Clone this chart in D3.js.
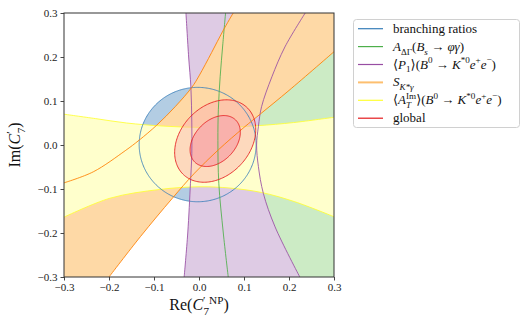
<!DOCTYPE html>
<html>
<head>
<meta charset="utf-8">
<script src="https://cdn.jsdelivr.net/npm/d3@7"></script>
<style>
  body { margin: 0; background: #fff; }
  svg { display: block; }
</style>
</head>
<body>
<div id="chart"></div>
<script>
// Axis ticks
const xTicks = [-0.3, -0.2, -0.1, 0.0, 0.1, 0.2, 0.3];
const yTicks = [-0.3, -0.2, -0.1, 0.0, 0.1, 0.2, 0.3];

// Contours, [Re, Im]
const brCenter = [-0.003, 0.001];
const brRadius = 0.13;

const greenLine = [[0.059, 0.3], [0.053, 0.23], [0.047, 0.155], [0.043, 0.08], [0.042, 0.01],
  [0.044, -0.087], [0.054, -0.2], [0.065, -0.3]];

const purpleLeft = [[-0.029, 0.3], [-0.023, 0.2], [-0.018, 0.131], [-0.016, 0.05], [-0.016, -0.02],
  [-0.019, -0.087], [-0.025, -0.2], [-0.033, -0.3]];
const purpleRight = [[0.236, 0.3], [0.191, 0.223], [0.162, 0.155], [0.139, 0.087], [0.132, 0.042],
  [0.128, 0.0], [0.132, -0.049], [0.143, -0.11], [0.169, -0.186], [0.224, -0.3]];

const orangeUpper = [[-0.3, -0.086], [-0.235, -0.061], [-0.164, -0.013], [-0.133, 0.011], [-0.094, 0.045],
  [-0.053, 0.087], [-0.016, 0.131], [0.0, 0.157], [0.028, 0.21], [0.053, 0.259], [0.076, 0.3]];
const orangeLower = [[-0.2, -0.3], [-0.13, -0.208], [-0.06, -0.122], [-0.01, -0.064], [0.043, -0.011],
  [0.1, 0.04], [0.137, 0.071], [0.2, 0.124], [0.3, 0.212]];

const yellowTop = [[-0.3, 0.07], [-0.23, 0.06], [-0.161, 0.05], [-0.08, 0.043], [0.0, 0.04],
  [0.07, 0.041], [0.132, 0.044], [0.21, 0.051], [0.3, 0.063]];
const yellowBottom = [[-0.3, -0.164], [-0.198, -0.121], [-0.087, -0.101], [0.0, -0.095], [0.07, -0.098],
  [0.139, -0.108], [0.213, -0.129], [0.3, -0.163]];

// global fit ellipses: center, semi axes, tilt (deg)
const globalCenter = [0.036, 0.009];
const globalOuter = [0.104, 0.078, 49];
const globalInner = [0.066, 0.046, 48];

const legendLabels = ['branching ratios', 'A_dG', 'P1', 'SKg', 'ATIm', 'global'];
const lineColors = ['#377eb8', '#4daf4a', '#984ea3', '#ff7f00', '#ffff33', '#e41a1c'];
const fillColors = ['#b3cde3', '#ccebc5', '#decbe4', '#fed9a6', '#ffffcc', '#fbb4ae'];

const W = 529, H = 328;
const font = '"Liberation Serif", "DejaVu Serif", serif';

const svg = d3.select('#chart').append('svg')
  .attr('width', W).attr('height', H)
  .style('font-family', font);

const x = d3.scaleLinear().domain([-0.3, 0.3]).range([64, 334]);
const y = d3.scaleLinear().domain([-0.3, 0.3]).range([277, 13]);

svg.append('clipPath').attr('id', 'clip')
  .append('rect')
  .attr('x', x(-0.3)).attr('y', y(0.3))
  .attr('width', x(0.3) - x(-0.3)).attr('height', y(-0.3) - y(0.3));

const plot = svg.append('g').attr('clip-path', 'url(#clip)');

const smooth = d3.line().x(d => x(d[0])).y(d => y(d[1])).curve(d3.curveCatmullRom);
const seg = pts => smooth(pts).slice(1);
const region = parts => 'M' + parts.map(p => typeof p[0] === 'number'
  ? `${x(p[0])},${y(p[1])}` : seg(p)).join('L') + 'Z';

const ellipse = (c, a, b, deg) => {
  const th = deg * Math.PI / 180;
  const pts = d3.range(0, 360, 4).map(t => {
    const r = t * Math.PI / 180;
    return [c[0] + a * Math.cos(th) * Math.cos(r) - b * Math.sin(th) * Math.sin(r),
            c[1] + a * Math.sin(th) * Math.cos(r) + b * Math.cos(th) * Math.sin(r)];
  });
  return d3.line().x(d => x(d[0])).y(d => y(d[1])).curve(d3.curveCardinalClosed.tension(0.5))(pts);
};

const brPath = ellipse(brCenter, brRadius, brRadius, 0);
const greenPath = region([greenLine, [0.35, -0.35], [0.35, 0.35]]);
const purplePath = region([purpleLeft, purpleRight.slice().reverse()]);
const orangePath = region([orangeUpper, [0.35, 0.35], orangeLower.slice().reverse(), [-0.35, -0.35]]);
const yellowPath = region([yellowTop, yellowBottom.slice().reverse()]);

// fills
[brPath, greenPath, purplePath, orangePath, yellowPath].forEach((p, i) => {
  plot.append('path').attr('d', p).attr('fill', fillColors[i]).attr('stroke', 'none');
});

const stroke = (d, c) => plot.append('path').attr('d', d)
  .attr('fill', 'none').attr('stroke', c).attr('stroke-width', 1).attr('stroke-opacity', 0.85);

stroke(smooth(yellowTop), lineColors[4]);
stroke(smooth(yellowBottom), lineColors[4]);

// global fills
plot.append('path').attr('d', ellipse(globalCenter, ...globalOuter))
  .attr('fill', fillColors[5]).attr('fill-opacity', 0.5);
plot.append('path').attr('d', ellipse(globalCenter, ...globalInner))
  .attr('fill', '#f9b1ac');

stroke(brPath, lineColors[0]);
stroke(smooth(greenLine), lineColors[1]);
stroke(smooth(purpleLeft), lineColors[2]);
stroke(smooth(purpleRight), lineColors[2]);
stroke(smooth(orangeUpper), lineColors[3]);
stroke(smooth(orangeLower), lineColors[3]);
stroke(ellipse(globalCenter, ...globalOuter), lineColors[5]);
stroke(ellipse(globalCenter, ...globalInner), lineColors[5]);

// frame
svg.append('rect')
  .attr('x', x(-0.3)).attr('y', y(0.3))
  .attr('width', x(0.3) - x(-0.3)).attr('height', y(-0.3) - y(0.3))
  .attr('fill', 'none').attr('stroke', '#333').attr('stroke-width', 1);

const fmt = d3.format('.1f');
const xAxisG = svg.append('g').attr('transform', `translate(0,${y(-0.3)})`)
  .call(d3.axisBottom(x).tickValues(xTicks).tickFormat(fmt).tickSize(3.5).tickPadding(3));
const yAxisG = svg.append('g').attr('transform', `translate(${x(-0.3)},0)`)
  .call(d3.axisLeft(y).tickValues(yTicks).tickFormat(fmt).tickSize(3.5).tickPadding(3));
[xAxisG, yAxisG].forEach(g => {
  g.attr('font-family', null);
  g.select('.domain').remove();
  g.selectAll('line').attr('stroke', '#333').attr('stroke-width', 0.9);
  g.selectAll('text').style('font-family', font).style('font-size', '11px').attr('fill', '#222');
});

// math-ish text helper
function mathText(sel, parts, size) {
  let cur = 0;
  parts.forEach(p => {
    const target = p.s === 'sub' ? size * 0.3 : p.s === 'sup' ? -size * 0.4 : 0;
    const ts = sel.append('tspan').text(p.t);
    if (target - cur !== 0) ts.attr('dy', target - cur);
    cur = target;
    if (p.i) ts.style('font-style', 'italic');
    if (p.s) ts.style('font-size', (size * 0.7) + 'px');
    if (p.dx) ts.attr('dx', p.dx);
  });
}

// axis labels
const xl = svg.append('text').attr('x', 199).attr('y', 310)
  .attr('text-anchor', 'middle').style('font-size', '16px').attr('fill', '#111');
mathText(xl, [{ t: 'Re(' }, { t: 'C', i: 1 }, { t: '′', s: 'sup' }, { t: '7', s: 'sub', dx: -2 },
  { t: 'NP', s: 'sup' }, { t: ')' }], 16);

const yl = svg.append('text').attr('transform', `translate(20,${y(0)}) rotate(-90)`)
  .attr('text-anchor', 'middle').style('font-size', '16px').attr('fill', '#111');
mathText(yl, [{ t: 'Im(' }, { t: 'C', i: 1 }, { t: '′', s: 'sup' }, { t: '7', s: 'sub', dx: -2 }, { t: ')' }], 16);

// legend
const legend = svg.append('g');
legend.append('rect')
  .attr('x', 353.5).attr('y', 19.5).attr('width', 166).attr('height', 108)
  .attr('rx', 3).attr('fill', '#fff').attr('stroke', '#d0d0d0').attr('stroke-width', 1);

const ls = 13;
const legendParts = {
  'branching ratios': [{ t: 'branching ratios' }],
  A_dG: [{ t: 'A', i: 1 }, { t: 'ΔΓ', s: 'sub' }, { t: '(' }, { t: 'B', i: 1 }, { t: 's', i: 1, s: 'sub' },
    { t: ' → ' }, { t: 'φγ', i: 1 }, { t: ')' }],
  P1: [{ t: '⟨' }, { t: 'P', i: 1 }, { t: '1', s: 'sub' }, { t: '⟩(' }, { t: 'B', i: 1 }, { t: '0', s: 'sup' },
    { t: ' → ' }, { t: 'K', i: 1 }, { t: '*0', s: 'sup' }, { t: 'e', i: 1 }, { t: '+', s: 'sup' },
    { t: 'e', i: 1 }, { t: '−', s: 'sup' }, { t: ')' }],
  SKg: [{ t: 'S', i: 1 }, { t: 'K*γ', i: 1, s: 'sub' }],
  ATIm: [{ t: '⟨' }, { t: 'A', i: 1 }, { t: 'T', i: 1, s: 'sub' }, { t: 'Im', s: 'sup', dx: -5 }, { t: '⟩(' },
    { t: 'B', i: 1 }, { t: '0', s: 'sup' }, { t: ' → ' }, { t: 'K', i: 1 }, { t: '*0', s: 'sup' },
    { t: 'e', i: 1 }, { t: '+', s: 'sup' }, { t: 'e', i: 1 }, { t: '−', s: 'sup' }, { t: ')' }],
  global: [{ t: 'global' }]
};

legendLabels.forEach((lab, i) => {
  const ly = 28.7 + i * 17.9;
  legend.append('line')
    .attr('x1', 358).attr('x2', 383).attr('y1', ly).attr('y2', ly)
    .attr('stroke', i === 3 ? '#fdbf6f' : lineColors[i]).attr('stroke-width', i === 3 ? 2 : 1.2);
  const t = legend.append('text').attr('x', 393).attr('y', ly + 4)
    .style('font-size', ls + 'px').attr('fill', '#111');
  mathText(t, legendParts[lab], ls);
});
</script>
</body>
</html>
